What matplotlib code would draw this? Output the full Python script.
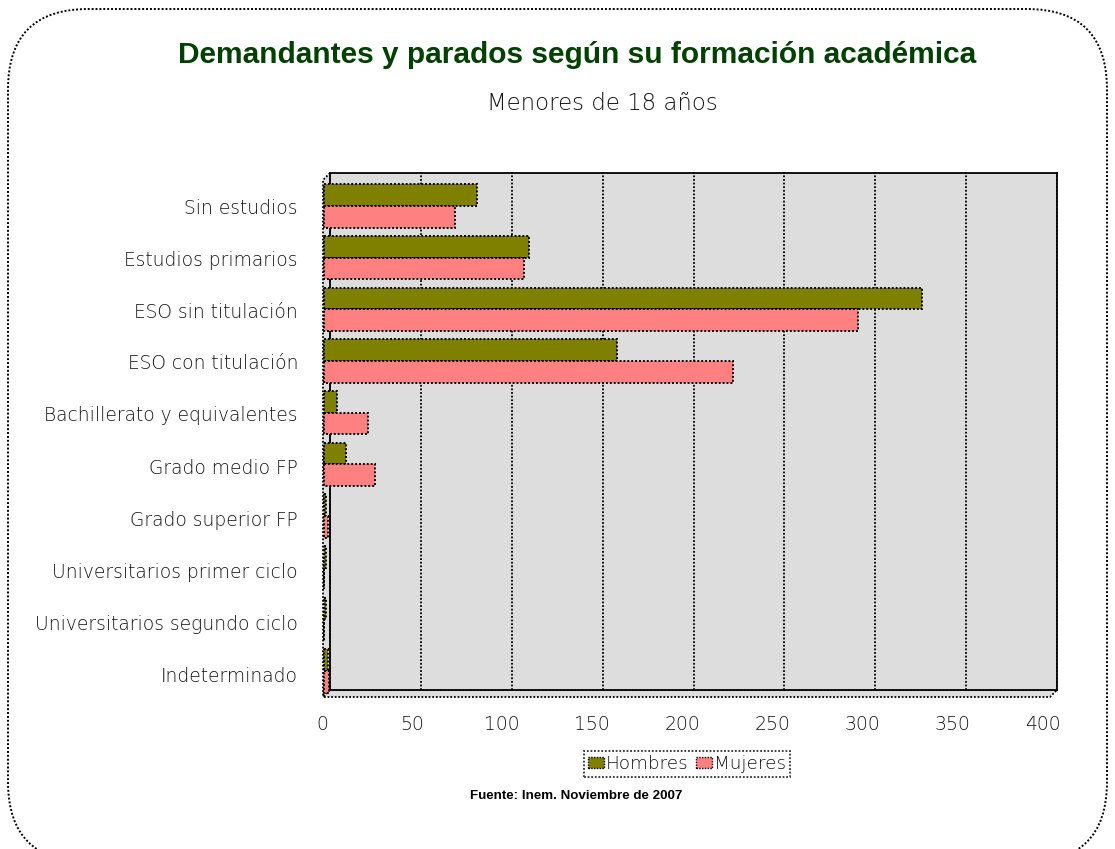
import matplotlib as mpl
mpl.use('Agg')
import matplotlib.pyplot as plt
from matplotlib.patches import FancyBboxPatch, Polygon, Patch
from matplotlib.transforms import offset_copy

# datos
categorias = ["Sin estudios", "Estudios primarios", "ESO sin titulación", "ESO con titulación",
              "Bachillerato y equivalentes", "Grado medio FP", "Grado superior FP",
              "Universitarios primer ciclo", "Universitarios segundo ciclo", "Indeterminado"]
hombres = [84, 113, 329, 161, 7, 12, 1, 1, 1, 2]
mujeres = [72, 110, 294, 225, 24, 28, 2, 0, 0, 3]
ticks_x = [0, 50, 100, 150, 200, 250, 300, 350, 400]

W, H = 1115, 849
FUENTE = ['DejaVu Sans']
plt.rcParams['font.family'] = FUENTE
fig = plt.figure(figsize=(W / 100, H / 100), dpi=100)

def fx(px):
    return px / W

def fy(py):
    return 1 - py / H

punteado = (0, (1, 1))
gris_txt = '#151515'

# marco redondeado punteado
marco = FancyBboxPatch((fx(8), fy(862)), fx(1099), (862 - 9) / H,
                       boxstyle="round,pad=0,rounding_size=0.072",
                       mutation_aspect=W / H,
                       transform=fig.transFigure, fill=False, ec='black',
                       lw=1.4, ls=punteado)
fig.patches.append(marco)

fig.text(fx(577), fy(55), "Demandantes y parados según su formación académica",
         ha='center', va='center', fontsize=21.5, fontweight='bold',
         color='#004000', family=['Liberation Sans', 'DejaVu Sans'])
fig.text(fx(602), fy(103), "Menores de 18 años", ha='center', va='center',
         fontsize=16.5, fontweight='light', color=gris_txt)

# area del grafico (plano del fondo)
x0, x1, y0, y1 = 330, 1057, 173, 690
d = 7
ax = fig.add_axes([fx(x0), fy(y1), fx(x1 - x0), (y1 - y0) / H])
ax.set_facecolor('#DDDDDD')

n = len(categorias)
pos = list(range(n))
alto = 0.42
# barras en el plano medio (desplazadas respecto al fondo)
tr = offset_copy(ax.transData, fig=fig, x=-6, y=-7, units='dots')
ax.barh([p - alto / 2 for p in pos], hombres, height=alto, color='#808000',
        edgecolor='black', lw=1.4, ls=punteado, zorder=3, transform=tr, clip_on=False)
ax.barh([p + alto / 2 for p in pos], mujeres, height=alto, color='#FF8080',
        edgecolor='black', lw=1.4, ls=punteado, zorder=3, transform=tr, clip_on=False)

ax.set_xlim(0, 400)
ax.set_ylim(n - 0.5, -0.5)
ax.set_xticks(ticks_x)
ax.set_xticklabels([])
ax.set_yticks(pos)
ax.set_yticklabels([])
ax.tick_params(length=0)
ax.grid(axis='x', color='black', lw=1.3, ls=punteado, zorder=1)
for s in ax.spines.values():
    s.set_linestyle(punteado)
    s.set_linewidth(1.3)

# efecto 3D: pared izquierda y suelo (debajo del eje)
pared = Polygon([(fx(x0), fy(y0)), (fx(x0 - d), fy(y0 + d)), (fx(x0 - d), fy(y1 + d)), (fx(x0), fy(y1))],
                closed=True, transform=fig.transFigure, fc='#DDDDDD', ec='black',
                lw=1.3, ls=punteado, zorder=-1)
suelo = Polygon([(fx(x0), fy(y1)), (fx(x0 - d), fy(y1 + d)), (fx(x1 - d), fy(y1 + d)), (fx(x1), fy(y1))],
                closed=True, transform=fig.transFigure, fc='#DDDDDD', ec='black',
                lw=1.3, ls=punteado, zorder=-1)
fig.patches.extend([pared, suelo])

# etiquetas
for i, c in enumerate(categorias):
    yc = 208 + i * 52
    fig.text(fx(298), fy(yc), c, ha='right', va='center', fontsize=13.4,
             fontweight='light', color=gris_txt)
for t in ticks_x:
    xc = 322 + t * 1.8025
    fig.text(fx(xc), fy(724), str(t), ha='center', va='center', fontsize=13.5,
             fontweight='light', color=gris_txt)

leg = fig.legend(handles=[Patch(fc='#808000', ec='black', ls=punteado),
                          Patch(fc='#FF8080', ec='black', ls=punteado)],
                 labels=['Hombres', 'Mujeres'], loc='center', bbox_to_anchor=(fx(687), fy(764)),
                 ncol=2, frameon=True, fancybox=False, handlelength=0.9,
                 handleheight=0.6, handletextpad=0.1, columnspacing=0.4, borderpad=0.2,
                 labelcolor=gris_txt, prop={'weight': 'light', 'size': 13.2})
leg.get_frame().set_edgecolor('black')
leg.get_frame().set_linestyle(punteado)
leg.get_frame().set_linewidth(1.3)

fig.text(fx(576), fy(796), "Fuente: Inem. Noviembre de 2007", ha='center', va='center',
         fontsize=9.6, fontweight='bold', color='black', family=['Liberation Sans', 'DejaVu Sans'])

plt.savefig("out.png", dpi=100)
